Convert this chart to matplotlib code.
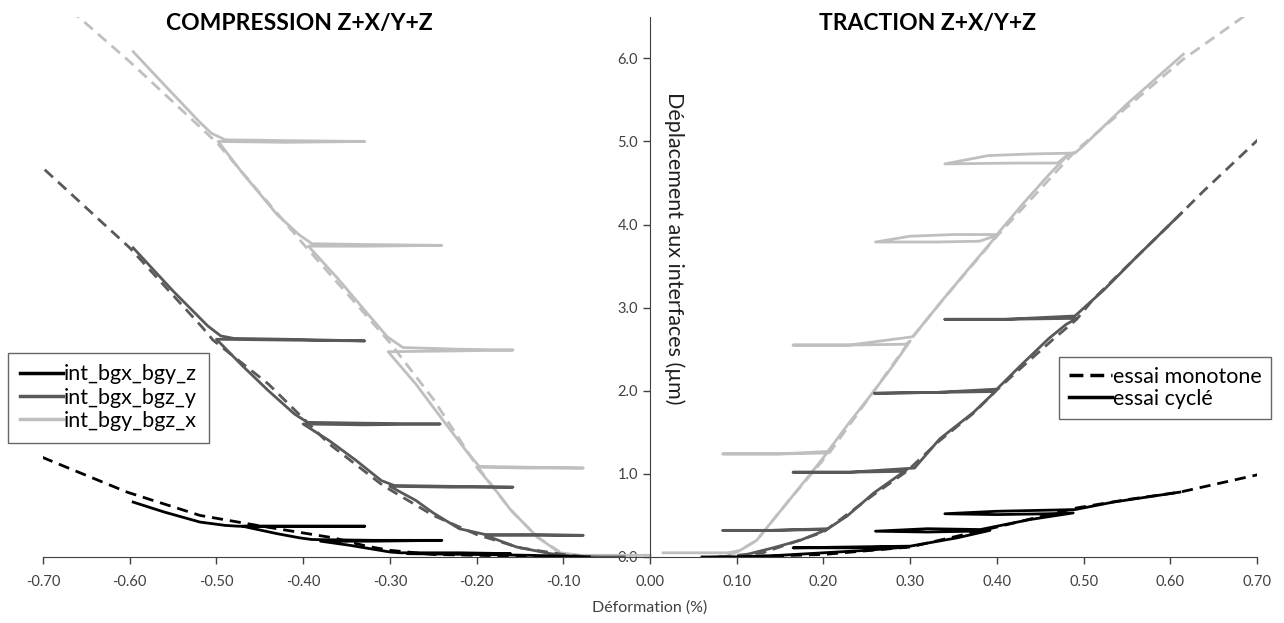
import matplotlib.pyplot as plt
from matplotlib.lines import Line2D

plt.rcParams['font.family'] = ['Lato', 'DejaVu Sans']

BLACK = '#000000'
DARK = '#595959'
LIGHT = '#bfbfbf'

# ---- compression side (negative strain) ----
# int_bgy_bgz_x  (light)
comp_x_mono_e = [-0.668, -0.60, -0.499, -0.396, -0.346, -0.30, -0.25, -0.20, -0.161, -0.13, -0.104, -0.09, -0.07]
comp_x_mono_d = [6.58, 5.96, 4.98, 3.72, 3.13, 2.58, 1.90, 1.10, 0.57, 0.24, 0.06, 0.02, 0.0]
comp_x_cyc_e = [-0.596, -0.56, -0.52, -0.506, -0.49, -0.42, -0.329, -0.42, -0.498, -0.47, -0.43, -0.405,
                -0.39, -0.33, -0.24, -0.33, -0.394, -0.36, -0.33, -0.303, -0.285, -0.22, -0.158, -0.22,
                -0.302, -0.27, -0.242, -0.21, -0.197, -0.14, -0.077, -0.14, -0.200, -0.18, -0.161, -0.13,
                -0.104, -0.08, -0.04, 0.0]
comp_x_cyc_d = [6.08, 5.68, 5.24, 5.10, 5.02, 5.01, 5.00, 4.99, 5.00, 4.62, 4.12, 3.88,
                3.77, 3.76, 3.75, 3.74, 3.74, 3.35, 2.98, 2.65, 2.52, 2.50, 2.49, 2.48,
                2.47, 2.08, 1.69, 1.25, 1.09, 1.08, 1.07, 1.07, 1.08, 0.83, 0.57, 0.24,
                0.05, 0.02, 0.02, 0.02]

# int_bgx_bgz_y  (dark)
comp_y_mono_e = [-0.698, -0.60, -0.516, -0.504, -0.44, -0.37, -0.308, -0.25, -0.20, -0.15, -0.10, -0.07]
comp_y_mono_d = [4.66, 3.72, 2.76, 2.61, 2.08, 1.36, 0.86, 0.50, 0.27, 0.11, 0.03, 0.0]
comp_y_cyc_e = [-0.596, -0.55, -0.51, -0.495, -0.48, -0.42, -0.329, -0.42, -0.50, -0.47, -0.44, -0.41,
                -0.395, -0.33, -0.242, -0.33, -0.40, -0.37, -0.34, -0.31, -0.295, -0.23, -0.158, -0.23,
                -0.30, -0.27, -0.25, -0.22, -0.19, -0.13, -0.077, -0.13, -0.19, -0.154, -0.115, -0.09,
                -0.06, -0.03]
comp_y_cyc_d = [3.72, 3.20, 2.78, 2.66, 2.63, 2.62, 2.60, 2.61, 2.62, 2.30, 2.00, 1.72,
                1.62, 1.61, 1.60, 1.59, 1.60, 1.40, 1.17, 0.92, 0.86, 0.85, 0.84, 0.84,
                0.85, 0.68, 0.53, 0.34, 0.27, 0.27, 0.26, 0.26, 0.26, 0.12, 0.04, 0.01,
                0.0, 0.0]

# int_bgx_bgy_z  (black)
comp_z_mono_e = [-0.701, -0.603, -0.519, -0.442, -0.365, -0.327, -0.30, -0.25, -0.15, -0.10]
comp_z_mono_d = [1.20, 0.78, 0.50, 0.36, 0.23, 0.13, 0.08, 0.03, 0.01, 0.0]
comp_z_cyc_e = [-0.596, -0.56, -0.519, -0.49, -0.475, -0.40, -0.329, -0.40, -0.47, -0.43, -0.404, -0.39,
                -0.32, -0.24, -0.32, -0.38, -0.346, -0.30, -0.288, -0.22, -0.161, -0.22, -0.28, -0.2,
                -0.14, -0.10, -0.07]
comp_z_cyc_d = [0.66, 0.54, 0.42, 0.38, 0.37, 0.37, 0.37, 0.37, 0.37, 0.28, 0.23, 0.21,
                0.20, 0.20, 0.19, 0.19, 0.14, 0.06, 0.05, 0.05, 0.04, 0.04, 0.04, 0.03,
                0.02, 0.01, 0.0]

# ---- traction side (positive strain) ----
trac_x_mono_e = [0.07, 0.092, 0.104, 0.123, 0.161, 0.208, 0.257, 0.303, 0.338, 0.40, 0.49, 0.615, 0.695]
trac_x_mono_d = [0.0, 0.02, 0.08, 0.20, 0.69, 1.27, 1.98, 2.65, 3.10, 3.86, 4.88, 5.99, 6.58]
trac_x_cyc_e = [0.015, 0.05, 0.09, 0.104, 0.123, 0.14, 0.161, 0.185, 0.204, 0.20, 0.15, 0.084,
                0.15, 0.205, 0.23, 0.257, 0.28, 0.30, 0.295, 0.23, 0.165, 0.23, 0.303, 0.338,
                0.37, 0.40, 0.38, 0.33, 0.26, 0.30, 0.35, 0.40, 0.43, 0.46, 0.484, 0.47,
                0.42, 0.34, 0.39, 0.44, 0.49, 0.50, 0.55, 0.615]
trac_x_cyc_d = [0.05, 0.05, 0.05, 0.08, 0.20, 0.42, 0.69, 1.00, 1.25, 1.25, 1.24, 1.24,
                1.24, 1.27, 1.62, 1.98, 2.30, 2.60, 2.56, 2.55, 2.55, 2.55, 2.65, 3.10,
                3.50, 3.87, 3.80, 3.79, 3.79, 3.86, 3.88, 3.88, 4.25, 4.60, 4.86, 4.74,
                4.74, 4.73, 4.83, 4.85, 4.86, 4.95, 5.45, 6.05]

trac_y_mono_e = [0.08, 0.13, 0.20, 0.258, 0.296, 0.334, 0.373, 0.400, 0.423, 0.465, 0.492, 0.511, 0.613, 0.638, 0.701]
trac_y_mono_d = [0.0, 0.05, 0.30, 0.75, 1.03, 1.40, 1.73, 2.01, 2.23, 2.62, 2.86, 3.10, 4.14, 4.40, 5.02]
trac_y_cyc_e = [0.08, 0.10, 0.142, 0.173, 0.204, 0.20, 0.14, 0.084, 0.14, 0.205, 0.227, 0.258,
                0.296, 0.29, 0.23, 0.165, 0.23, 0.305, 0.334, 0.373, 0.398, 0.39, 0.33, 0.259,
                0.33, 0.40, 0.43, 0.46, 0.48, 0.492, 0.48, 0.41, 0.34, 0.41, 0.49, 0.523, 0.561, 0.613]
trac_y_cyc_d = [0.0, 0.0, 0.11, 0.20, 0.33, 0.33, 0.32, 0.32, 0.32, 0.34, 0.49, 0.77,
                1.05, 1.03, 1.02, 1.02, 1.02, 1.07, 1.42, 1.74, 1.99, 1.99, 1.98, 1.97,
                1.98, 2.02, 2.33, 2.63, 2.80, 2.87, 2.87, 2.86, 2.86, 2.86, 2.90, 3.21, 3.61, 4.14]

trac_z_mono_e = [0.10, 0.20, 0.30, 0.40, 0.492, 0.55, 0.611, 0.701]
trac_z_mono_d = [0.0, 0.03, 0.12, 0.36, 0.59, 0.69, 0.78, 0.99]
trac_z_cyc_e = [0.06, 0.10, 0.15, 0.20, 0.25, 0.296, 0.28, 0.23, 0.165, 0.23, 0.30, 0.354,
                0.392, 0.37, 0.32, 0.26, 0.32, 0.381, 0.438, 0.488, 0.46, 0.40, 0.34, 0.40,
                0.49, 0.534, 0.611]
trac_z_cyc_d = [0.0, 0.0, 0.02, 0.05, 0.08, 0.12, 0.12, 0.11, 0.11, 0.12, 0.13, 0.23,
                0.32, 0.31, 0.30, 0.31, 0.34, 0.33, 0.45, 0.53, 0.52, 0.51, 0.52, 0.55,
                0.57, 0.66, 0.78]

x_ticks = [-0.7, -0.6, -0.5, -0.4, -0.3, -0.2, -0.1, 0.0, 0.1, 0.2, 0.3, 0.4, 0.5, 0.6, 0.7]
y_ticks = [0, 1, 2, 3, 4, 5, 6]

fig = plt.figure(figsize=(12.84, 6.23), dpi=100)
ax = fig.add_axes([0.0335, 0.106, 0.9455, 0.867])

lw = 2.0
dash = (4, 2.5)
series = [
    (comp_x_mono_e, comp_x_mono_d, comp_x_cyc_e, comp_x_cyc_d, LIGHT),
    (trac_x_mono_e, trac_x_mono_d, trac_x_cyc_e, trac_x_cyc_d, LIGHT),
    (comp_y_mono_e, comp_y_mono_d, comp_y_cyc_e, comp_y_cyc_d, DARK),
    (trac_y_mono_e, trac_y_mono_d, trac_y_cyc_e, trac_y_cyc_d, DARK),
    (comp_z_mono_e, comp_z_mono_d, comp_z_cyc_e, comp_z_cyc_d, BLACK),
    (trac_z_mono_e, trac_z_mono_d, trac_z_cyc_e, trac_z_cyc_d, BLACK),
]
for me, md, ce, cd, col in series:
    ax.plot(me, md, color=col, lw=lw, dashes=dash)
    ax.plot(ce, cd, color=col, lw=lw, solid_joinstyle='round')

ax.set_xlim(-0.7, 0.7)
ax.set_ylim(0, 6.5)
ax.spines['left'].set_position(('data', 0))
ax.spines['right'].set_visible(False)
ax.spines['top'].set_visible(False)
ax.spines['left'].set_color('#404040')
ax.spines['bottom'].set_color('#404040')
ax.set_xticks(x_ticks)
ax.set_xticklabels(['%.2f' % v for v in x_ticks])
ax.set_yticks(y_ticks)
ax.set_yticklabels(['%.1f' % v for v in y_ticks])
ax.tick_params(axis='both', direction='out', length=5, width=1, color='#404040',
               labelsize=10.5, labelcolor='#404040')
ax.tick_params(axis='x', pad=8)
ax.set_xlabel('Déformation (%)', fontsize=11.5, color='#404040', labelpad=8)

ax.text(-0.405, 6.42, 'COMPRESSION Z+X/Y+Z', fontsize=16.5, fontweight='bold', ha='center', va='center')
ax.text(0.32, 6.42, 'TRACTION Z+X/Y+Z', fontsize=16.5, fontweight='bold', ha='center', va='center')
ax.text(0.016, 5.6, 'Déplacement aux interfaces (µm)', rotation=-90, fontsize=15.5,
        ha='left', va='top', color='#202020')

h1 = [Line2D([], [], color=BLACK, lw=2.5),
      Line2D([], [], color=DARK, lw=2.5),
      Line2D([], [], color=LIGHT, lw=2.5)]
leg1 = fig.legend(h1, ['int_bgx_bgy_z', 'int_bgx_bgz_y', 'int_bgy_bgz_x'],
                  loc='upper left', bbox_to_anchor=(0.006, 0.434), borderaxespad=0,
                  fontsize=15.5, frameon=True, fancybox=False, edgecolor='#404040',
                  handlelength=2.0, handletextpad=0.05, labelspacing=0.15, borderpad=0.55)
leg1.get_frame().set_linewidth(1.0)

h2 = [Line2D([], [], color=BLACK, lw=2.5, dashes=(4, 2)),
      Line2D([], [], color=BLACK, lw=2.5)]
leg2 = fig.legend(h2, ['essai monotone', 'essai cyclé'],
                  loc='upper right', bbox_to_anchor=(0.990, 0.427), borderaxespad=0,
                  fontsize=15.5, frameon=True, fancybox=False, edgecolor='#404040',
                  handlelength=2.0, handletextpad=0.05, labelspacing=0.1, borderpad=0.45)
leg2.get_frame().set_linewidth(1.0)

fig.savefig('out.png', dpi=100)
